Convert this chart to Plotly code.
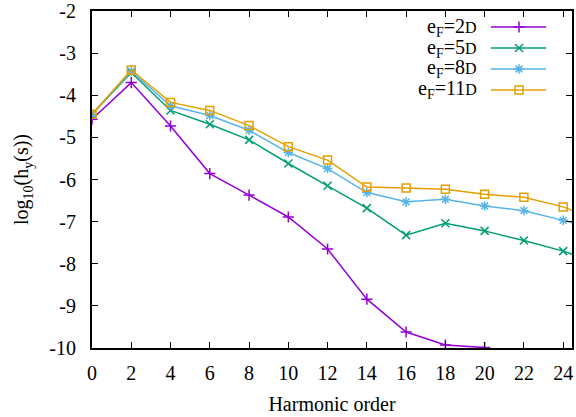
import plotly.graph_objects as go

harmonic = [0, 2, 4, 6, 8, 10, 12, 14, 16, 18, 20, 22, 24, 26]
h_2D = [-4.57, -3.70, -4.73, -5.86, -6.37, -6.89, -7.65, -8.84, -9.62, -9.93, -9.99]
h_5D = [-4.45, -3.46, -4.36, -4.69, -5.06, -5.62, -6.15, -6.68, -7.32, -7.04, -7.22, -7.45, -7.70, -8.02]
h_8D = [-4.45, -3.43, -4.25, -4.48, -4.83, -5.36, -5.74, -6.31, -6.53, -6.47, -6.63, -6.74, -6.97, -7.21]
h_11D = [-4.45, -3.40, -4.17, -4.36, -4.72, -5.22, -5.54, -6.18, -6.20, -6.23, -6.35, -6.42, -6.65, -7.01]

x_ticks = list(range(0, 25, 2))
y_ticks = list(range(-10, -1))

labels = ["e<sub>F</sub>=2<span style='font-size:16px'>D</span>",
          "e<sub>F</sub>=5<span style='font-size:16px'>D</span>",
          "e<sub>F</sub>=8<span style='font-size:16px'>D</span>",
          "e<sub>F</sub>=11<span style='font-size:16px'>D</span>"]
colors = ["#9400d3", "#009e73", "#56b4e9", "#e69f00"]
symbols = ["cross-thin-open", "x-thin-open", "asterisk-open", "square-open"]
series = [h_2D, h_5D, h_8D, h_11D]

FONT = "Liberation Serif"
fig = go.Figure()
for ys, c, s in zip(series, colors, symbols):
    fig.add_trace(go.Scatter(
        x=harmonic[:len(ys)], y=ys, mode="lines+markers",
        line=dict(color=c, width=1.5),
        marker=dict(symbol=s, size=8, color=c, line=dict(color=c, width=1.5)),
        showlegend=False, cliponaxis=True))

# custom gnuplot-style legend (sample to the right of right-aligned text)
rows = [0.9525, 0.890, 0.8279, 0.7656]
for lab, c, s, ry in zip(labels, colors, symbols, rows):
    fig.add_trace(go.Scatter(
        x=[0.831, 0.946], y=[ry, ry], mode="lines", line=dict(color=c, width=1.5),
        xaxis="x2", yaxis="y2", showlegend=False, hoverinfo="skip"))
    fig.add_trace(go.Scatter(
        x=[0.8896], y=[ry], mode="markers",
        marker=dict(symbol=s, size=8, color=c, line=dict(color=c, width=1.5)),
        xaxis="x2", yaxis="y2", showlegend=False, hoverinfo="skip"))
    fig.add_annotation(x=0.806, y=ry, xref="paper", yref="paper", text=lab,
                       showarrow=False, xanchor="right", yanchor="middle",
                       font=dict(family=FONT, size=20, color="black"))

axis_common = dict(showgrid=False, zeroline=False, showline=True, linecolor="black",
                   linewidth=2, mirror="ticks", ticks="inside", ticklen=6,
                   tickwidth=1, tickcolor="black", automargin=False,
                   tickfont=dict(family=FONT, size=20, color="black"))
fig.update_layout(
    width=576, height=417,
    margin=dict(l=92, r=4, t=11, b=69, autoexpand=False),
    plot_bgcolor="white", paper_bgcolor="white",
    font=dict(family=FONT, color="black"),
    xaxis=dict(range=[0, 24.45], tickmode="array", tickvals=x_ticks,
               ticktext=[str(v) for v in x_ticks],
               title=dict(text="Harmonic order", font=dict(family=FONT, size=20, color="black"), standoff=14),
               ticklabelstandoff=6, **axis_common),
    yaxis=dict(range=[-10, -2], tickmode="array", tickvals=y_ticks,
               ticktext=[str(v) for v in y_ticks],
               title=dict(text="log<sub>10</sub>(h<sub>y</sub>(s))", font=dict(family=FONT, size=20, color="black"), standoff=15),
               ticklabelstandoff=10, **axis_common),
    xaxis2=dict(overlaying="x", range=[0, 1], visible=False, fixedrange=True),
    yaxis2=dict(overlaying="y", range=[0, 1], visible=False, fixedrange=True),
)
fig.write_html("out.html", post_script="document.body.style.margin='0';",
               config={"displayModeBar": False})
